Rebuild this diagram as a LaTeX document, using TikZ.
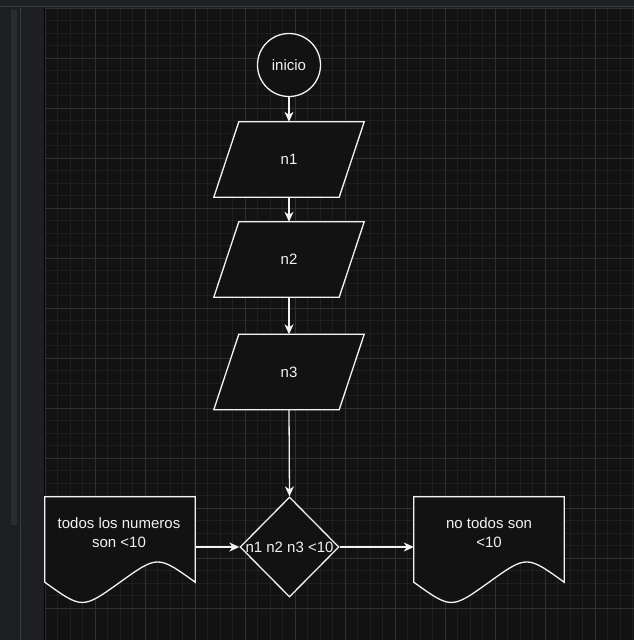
\documentclass[tikz,border=0pt]{standalone}
\usepackage{fontspec}
\setmainfont{Liberation Sans}
\usetikzlibrary{shapes.geometric,arrows.meta}

\definecolor{panel}{HTML}{1E1F22}
\definecolor{scrollbar}{HTML}{2B2C2F}
\definecolor{divider}{HTML}{3A3B3E}
\definecolor{canvas}{HTML}{121212}
\definecolor{gridminor}{HTML}{1F1F1F}
\definecolor{gridmajor}{HTML}{303030}
\definecolor{ink}{HTML}{F2F2F2}

\tikzset{
  flowline/.style={draw=ink, line width=1.3pt},
  shapeline/.style={draw=ink, fill=canvas, line width=1.3pt, line join=miter},
  arrowline/.style={flowline, -{Stealth[length=10pt,width=9pt,inset=3pt]}},
  box/.style={draw=none, inner sep=0pt},
  txt/.style={text=ink, font=\fontsize{15}{19}\selectfont, align=center, inner sep=0pt},
}

\begin{document}
\begin{tikzpicture}[x=1pt, y=-1pt]
  % window frame
  \fill[panel] (0,0) rectangle (634,640);
  \useasboundingbox (0,0) rectangle (634,640);
  \fill[scrollbar] (11,10) rectangle (17,525);
  \draw[divider, line width=0.8pt] (20,8) -- (20,640);
  \draw[divider, line width=1pt] (0,6.5) -- (634,6.5);

  % drawing canvas with its grid
  \fill[canvas] (44,8) rectangle (634,640);
  \draw[black, line width=1pt] (44,8) -- (44,640);
  \begin{scope}
    \clip (45,8) rectangle (634,640);
    \foreach \i in {0,...,48} {
      \draw[gridminor, line width=0.8pt] ({45+12.5*\i},8) -- ({45+12.5*\i},640);
      \draw[gridminor, line width=0.8pt] (45,{8+12.5*\i}) -- (634,{8+12.5*\i});
    }
    \foreach \i in {0,...,12} {
      \draw[gridmajor, line width=0.9pt] ({45+50*\i},8) -- ({45+50*\i},640);
      \draw[gridmajor, line width=0.9pt] (45,{8+50*\i}) -- (634,{8+50*\i});
    }
  \end{scope}

  % start
  \node[circle, shapeline, minimum size=63pt, inner sep=0pt, txt] (inicio) at (289,65) {inicio};

  % input parallelograms (centre boxes used for connections)
  \foreach \nm/\cy in {n1/159.5, n2/259.5, n3/372} {
    \node[box, minimum width=125pt, minimum height=75pt] (\nm) at (289,\cy) {};
    \draw[shapeline] ([xshift=-12.5pt]\nm.south west) -- ([xshift=-12.5pt]\nm.south east)
      -- ([xshift=12.5pt]\nm.north east) -- ([xshift=12.5pt]\nm.north west) -- cycle;
    \node[txt] (\nm label) at (\nm.center) {\nm};
  }

  % decision
  \node[diamond, shapeline, minimum width=99pt, minimum height=100pt, inner sep=0pt] (cond) at (289.5,547) {};
  \node[txt] (condlabel) at (cond.center) {n1 n2 n3 <10};

  % output documents with a wavy lower edge
  \foreach \nm/\cx in {docL/120, docR/489} {
    \node[box, minimum width=150pt, minimum height=100pt] (\nm) at (\cx,547) {};
    \draw[shapeline] (\nm.north west) -- (\nm.north east) -- ([yshift=15pt]\nm.south east)
      .. controls ([xshift=-37.5pt,yshift=42pt]\nm.south east) .. ([yshift=15pt]\nm.south)
      .. controls ([xshift=37.5pt,yshift=-12pt]\nm.south west) .. ([yshift=15pt]\nm.south west)
      -- cycle;
  }
  \node[txt] (docLlabel) at (119,533) {todos los numeros\\son <10};
  \node[txt] (docRlabel) at (489,533) {no todos son\\<10};

  % connectors
  \draw[arrowline] (inicio) -- (n1.north);
  \draw[arrowline] (n1.south) -- (n2.north);
  \draw[arrowline] (n2.south) -- (n3.north);
  \draw[arrowline] (n3.south) -- (cond.north);
  \draw[arrowline] (docL.east) -- (cond.west);
  \draw[arrowline] (cond.east) -- (docR.west);
\end{tikzpicture}
\end{document}
